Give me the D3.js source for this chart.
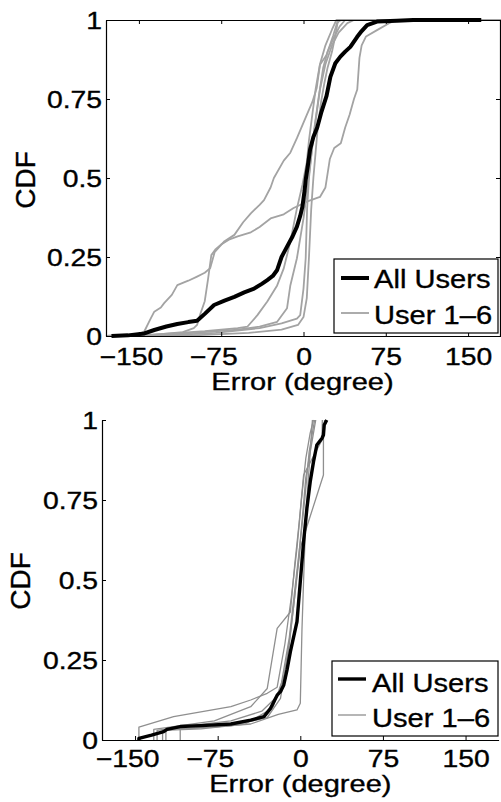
<!DOCTYPE html>
<html>
<head>
<meta charset="utf-8">
<script src="https://cdn.jsdelivr.net/npm/d3@7"></script>
<style>
  html, body { margin: 0; padding: 0; background: #fff; }
  svg { display: block; }
  text { font-family: "Liberation Sans", Arial, Helvetica, sans-serif; fill: #000; stroke: #000; stroke-width: 0.35px; }
</style>
</head>
<body>
<svg id="chart" width="501" height="802"></svg>
<script>
// ---- data: CDF of heading error, [error in degrees, cumulative fraction] ----
const xTicks = [-150, -75, 0, 75, 150];
const xTickLabels = ["\u2212150", "\u221275", "0", "75", "150"];
const yTicks = [0, 0.25, 0.5, 0.75, 1];
const yTickLabels = ["0", "0.25", "0.5", "0.75", "1"];
const legendLabels = ["All Users", "User 1\u20136"];
const xTitle = "Error (degree)";
const yTitle = "CDF";

// upper panel
const topAll = [[-175,0],[-160,0.002],[-145,0.008],[-136,0.019],[-125,0.03],[-115,0.038],[-105,0.044],[-97,0.048],[-90,0.07],[-81.5,0.098],[-72,0.112],[-63,0.124],[-54,0.138],[-45,0.15],[-38,0.165],[-33,0.177],[-28,0.19],[-24,0.209],[-20,0.25],[-15,0.283],[-10,0.315],[-6,0.346],[-3,0.38],[-1,0.409],[1,0.46],[2,0.494],[4,0.54],[6,0.59],[9,0.63],[12.5,0.66],[16,0.705],[21,0.76],[24.5,0.82],[29,0.863],[33.6,0.884],[38,0.9],[42.7,0.915],[48.8,0.946],[53,0.965],[58,0.984],[67,0.995],[85,0.998],[100,1],[162,1]];
const topUser1 = [[-180,0],[-150,0.005],[-145,0.015],[-140,0.05],[-136,0.077],[-130,0.09],[-127,0.104],[-120,0.13],[-115,0.161],[-105,0.175],[-97,0.188],[-90,0.2],[-85,0.215],[-81,0.265],[-72,0.3],[-63,0.32],[-55,0.36],[-48,0.388],[-40,0.415],[-36,0.43],[-30,0.47],[-27,0.5],[-18,0.555],[-12,0.58],[-6,0.626],[3,0.7],[8,0.74],[12,0.784],[15,0.858],[21,0.889],[27,0.95],[31,0.995],[35,1],[180,1]];
const topUser2 = [[-180,0],[-140,0.003],[-110,0.012],[-100,0.025],[-97,0.035],[-94,0.07],[-90,0.11],[-87,0.18],[-84,0.256],[-80,0.275],[-75,0.29],[-68,0.305],[-60,0.315],[-48,0.328],[-40,0.345],[-30,0.372],[-18,0.385],[-9,0.405],[3,0.425],[15,0.44],[20,0.47],[24,0.56],[28,0.595],[34,0.61],[38,0.66],[42,0.7],[46,0.75],[49,0.78],[51,0.88],[53,0.92],[57,0.948],[67,0.968],[78,0.99],[85,1],[180,1]];
const topUser3 = [[-180,0],[-150,0.002],[-120,0.008],[-90,0.015],[-60,0.025],[-51,0.03],[-42,0.066],[-33,0.109],[-24,0.16],[-18,0.214],[-12,0.298],[-6,0.404],[-1,0.478],[3,0.55],[5,0.62],[8,0.7],[11,0.78],[15,0.86],[20,0.92],[26,0.97],[30,1],[180,1]];
const topUser4 = [[-180,0],[-140,0.003],[-100,0.01],[-60,0.02],[-40,0.03],[-24,0.045],[-15,0.088],[-12,0.16],[-6,0.246],[0,0.372],[4,0.48],[7,0.57],[10,0.66],[14,0.76],[18,0.85],[22,0.9],[27,0.94],[33,0.98],[38,1],[180,1]];
const topUser5 = [[-180,0],[-120,0.003],[-80,0.01],[-40,0.025],[-20,0.04],[-6,0.055],[-3,0.066],[0,0.15],[2,0.246],[3.3,0.404],[5,0.5],[8,0.6],[11,0.68],[15,0.78],[20,0.86],[26,0.92],[32,0.96],[40,0.99],[46,1],[180,1]];
const topUser6 = [[-180,0],[-100,0.002],[-50,0.01],[-20,0.02],[-5,0.035],[0,0.06],[3,0.12],[5,0.25],[7,0.4],[9,0.5],[11,0.58],[13,0.66],[16,0.74],[19,0.8],[22,0.85],[26,0.9],[29,0.95],[31,0.99],[33,1],[180,1]];

// lower panel
const botAll = [[-146.5,0],[-146.5,0.005],[-135,0.015],[-124,0.026],[-121,0.033],[-109,0.042],[-90,0.045],[-63,0.05],[-45,0.062],[-33,0.073],[-27,0.099],[-21,0.14],[-18,0.151],[-15,0.172],[-12,0.22],[-9,0.276],[-3,0.37],[0,0.495],[3,0.62],[6,0.724],[9,0.807],[12,0.87],[15,0.922],[19.7,0.943],[21,0.953],[21.7,0.984],[24,1]];
const botUser1 = [[-146.5,0],[-146.5,0.04],[-115,0.073],[-63,0.104],[-45,0.125],[-30,0.146],[-21,0.165],[-14,0.3],[-8,0.45],[-3,0.6],[1,0.75],[5,0.88],[9,0.96],[12,1]];
const botUser2 = [[-133,0],[-133,0.033],[-78,0.06],[-45,0.104],[-30,0.161],[-21,0.349],[-9,0.4],[-5,0.55],[-1,0.68],[3,0.828],[19.7,0.9375],[20,1]];
const botUser3 = [[-130,0],[-130,0.03],[-100,0.045],[-63,0.06],[-35,0.09],[-20,0.14],[-15,0.2],[-10,0.3],[-5,0.45],[0,0.6],[6,0.667],[21,0.828],[21,0.948],[22,1]];
const botUser4 = [[-122,0],[-122,0.033],[-80,0.04],[-45,0.05],[-20,0.08],[-3,0.094],[0,0.115],[1.5,0.344],[3,0.5],[5,0.7],[8,0.85],[11,1]];
const botUser5 = [[-109,0],[-109,0.033],[-63,0.045],[-30,0.07],[-18,0.13],[-12,0.25],[-6,0.42],[-2,0.55],[2,0.7],[5,0.82],[10,0.92],[14,1]];
const botUser6 = [[-125,0],[-125,0.03],[-90,0.035],[-50,0.05],[-25,0.1],[-17,0.18],[-10,0.32],[-4,0.5],[0,0.62],[4,0.75],[8,0.9],[13,1]];

const svg = d3.select("#chart");

// horizontal stretch applied to the label font
const SX_TICK = 1.18, SX_LEG = 1.12, SX_TITLE = 1.21;
// negative labels hang their minus sign to the left of the tick
const MINUS_SHIFT = -8;

function panel(cfg) {
  const x = d3.scaleLinear().domain([-180, 180]).range([cfg.left, cfg.right]);
  const y = d3.scaleLinear().domain([0, 1]).range([cfg.bottom, cfg.top]);
  const g = svg.append("g");

  const line = d3.line().x(d => x(d[0])).y(d => y(d[1]));

  // per-user curves, then the pooled curve on top
  cfg.users.forEach(u => {
    g.append("path").datum(u).attr("d", line)
      .attr("fill", "none").attr("stroke", cfg.grey)
      .attr("stroke-width", cfg.greyWidth).attr("stroke-linejoin", "round");
  });
  g.append("path").datum(cfg.all).attr("d", line)
    .attr("fill", "none").attr("stroke", "#000")
    .attr("stroke-width", cfg.blackWidth).attr("stroke-linejoin", "round");

  // bottom axis, ticks pointing inward
  const xa = g.append("g").attr("transform", `translate(0,${cfg.bottom})`)
    .call(d3.axisBottom(x).tickValues(xTicks).tickSizeInner(-4).tickSizeOuter(0)
      .tickFormat((d, i) => xTickLabels[i]));
  xa.select(".domain").attr("stroke", "#000").attr("stroke-width", 1.2);
  xa.selectAll(".tick line").attr("stroke", "#000");
  xa.selectAll(".tick text").attr("y", cfg.xLabelOffset).attr("dy", 0)
    .attr("x", d => d < 0 ? MINUS_SHIFT / SX_TICK : 0)
    .attr("font-size", 24).attr("transform", `scale(${SX_TICK},1)`);

  // left axis, ticks pointing inward
  const ya = g.append("g").attr("transform", `translate(${cfg.left},0)`)
    .call(d3.axisLeft(y).tickValues(yTicks).tickSizeInner(-4).tickSizeOuter(0)
      .tickFormat((d, i) => yTickLabels[i]));
  ya.select(".domain").attr("stroke", "#000").attr("stroke-width", 1.2);
  ya.selectAll(".tick line").attr("stroke", "#000");
  ya.selectAll(".tick text").attr("x", -4 / SX_TICK).attr("dy", "0.36em")
    .attr("font-size", 24).attr("transform", `scale(${SX_TICK},1)`);

  if (cfg.box) {
    // top and right frame with inward ticks
    const ta = g.append("g").attr("transform", `translate(0,${cfg.top})`)
      .call(d3.axisTop(x).tickValues(xTicks).tickSizeInner(-4).tickSizeOuter(0).tickFormat(""));
    ta.select(".domain").attr("stroke", "#000").attr("stroke-width", 1.2);
    ta.selectAll(".tick line").attr("stroke", "#000");
    const ra = g.append("g").attr("transform", `translate(${cfg.right - 1},0)`)
      .call(d3.axisRight(y).tickValues(yTicks).tickSizeInner(-4).tickSizeOuter(0).tickFormat(""));
    ra.select(".domain").attr("stroke", "#000").attr("stroke-width", 1.2);
    ra.selectAll(".tick line").attr("stroke", "#000");
  }

  // axis titles
  g.append("text")
    .attr("transform", `translate(${(cfg.left + cfg.right) / 2 + cfg.xTitleShift},${cfg.xTitleY}) scale(${SX_TITLE},1)`)
    .attr("text-anchor", "middle").attr("font-size", 24).text(xTitle);
  g.append("text")
    .attr("transform", `translate(${cfg.yTitleX},${cfg.yTitleY}) rotate(-90)`)
    .attr("text-anchor", "middle").attr("font-size", 28).text(yTitle);

  // legend
  const L = cfg.legend;
  g.append("rect").attr("x", L.x).attr("y", L.y).attr("width", L.w).attr("height", L.h)
    .attr("fill", "#fff").attr("stroke", "#000").attr("stroke-width", 1.2);
  const rows = [
    { label: legendLabels[0], color: "#000", width: cfg.blackWidth },
    { label: legendLabels[1], color: cfg.grey, width: cfg.greyWidth }
  ];
  rows.forEach((r, i) => {
    const cy = L.lineY[i];
    g.append("line").attr("x1", L.lineX[0]).attr("x2", L.lineX[1])
      .attr("y1", cy).attr("y2", cy).attr("stroke", r.color).attr("stroke-width", r.width);
    g.append("text")
      .attr("transform", `translate(${L.textX},${L.textY[i]}) scale(${SX_LEG},1)`)
      .attr("font-size", 26).text(r.label);
  });
}

panel({
  left: 106, right: 501, top: 20, bottom: 336, box: true,
  all: topAll, users: [topUser1, topUser2, topUser3, topUser4, topUser5, topUser6],
  grey: "#a3a3a3", greyWidth: 1.8, blackWidth: 4,
  xLabelOffset: 29, xTitleY: 390, xTitleShift: -1, yTitleX: 35, yTitleY: 180,
  legend: { x: 334, y: 259, w: 164, h: 74, lineX: [341, 369], lineY: [278, 313], textX: 374, textY: [288, 324] }
});

panel({
  left: 102, right: 498.6, top: 420, bottom: 740, box: false,
  all: botAll, users: [botUser1, botUser2, botUser3, botUser4, botUser5, botUser6],
  grey: "#8f8f8f", greyWidth: 1.3, blackWidth: 3.4,
  xLabelOffset: 27, xTitleY: 792, xTitleShift: 0, yTitleX: 30, yTitleY: 581,
  legend: { x: 332, y: 661, w: 166, h: 75, lineX: [338, 366], lineY: [679, 715], textX: 372, textY: [692, 727] }
});
</script>
</body>
</html>
